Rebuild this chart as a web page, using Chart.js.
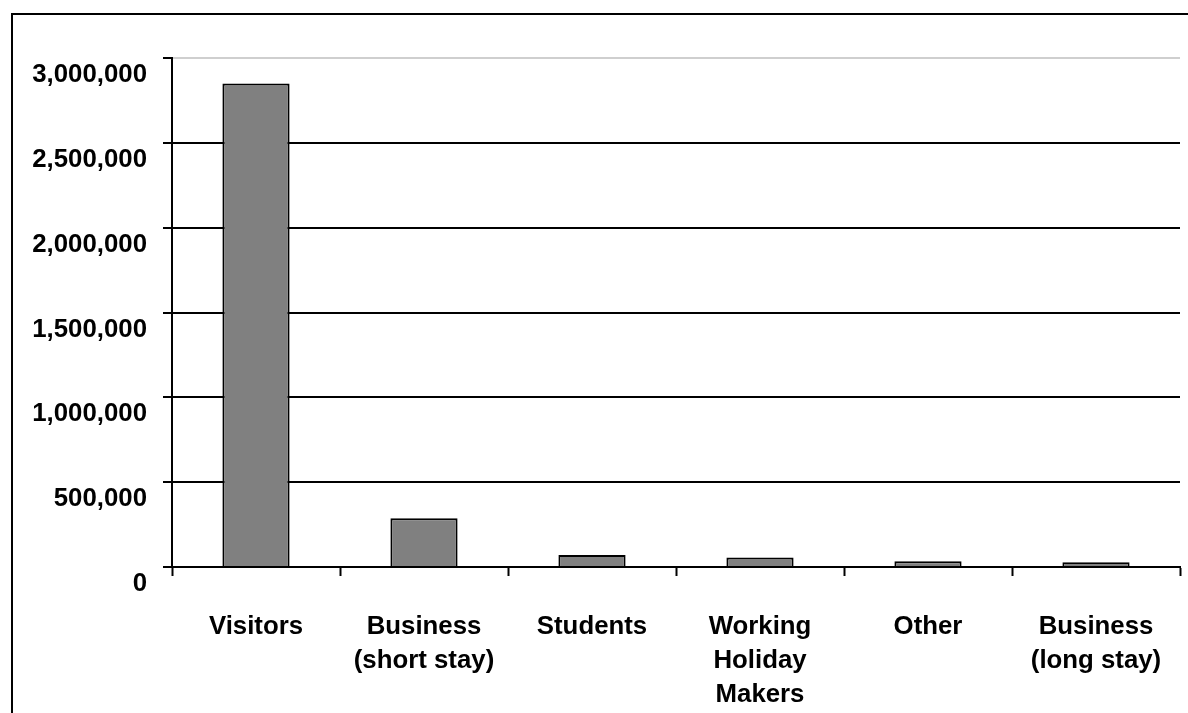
<!DOCTYPE html>
<html>
<head>
<meta charset="utf-8">
<script src="https://cdn.jsdelivr.net/npm/chart.js@4/dist/chart.umd.min.js"></script>
<style>
  html, body { margin: 0; padding: 0; background: #fff; overflow: hidden; }
  #wrap { position: relative; width: 1188px; height: 713px; }
  #frame { position: absolute; left: 11px; top: 13px; width: 1300px; height: 900px; border: 2px solid #000; box-sizing: border-box; }
  #c { position: absolute; left: 0; top: 0; }
</style>
</head>
<body>
<div id="wrap">
  <div id="frame"></div>
  <canvas id="c" width="1188" height="713"></canvas>
</div>
<script>
// Visa categories and approximate grant counts
const categories = [
  'Visitors',
  ['Business', '(short stay)'],
  'Students',
  ['Working', 'Holiday', 'Makers'],
  'Other',
  ['Business', '(long stay)']
];
const grants = [2850000, 287000, 70000, 56000, 34000, 28000];
const yMax = 3000000;
const yStep = 500000;

const FONT = { family: '"Liberation Sans", Arial, sans-serif', size: 25.8, weight: 'bold', lineHeight: 1.32 };

new Chart(document.getElementById('c'), {
  type: 'bar',
  data: {
    labels: categories,
    datasets: [{
      data: grants,
      backgroundColor: '#808080',
      borderColor: '#000',
      borderWidth: 2,
      borderSkipped: 'bottom',
      categoryPercentage: 1,
      barPercentage: 0.4
    }]
  },
  options: {
    responsive: false,
    animation: false,
    devicePixelRatio: 1,
    layout: { padding: { left: 0, right: 8, top: 58, bottom: 0 } },
    plugins: { legend: { display: false }, tooltip: { enabled: false } },
    scales: {
      x: {
        afterFit: s => {
          s.height = 713 - 567;
          s.paddingLeft = 0;
          s.paddingRight = 0;
        },
        grid: {
          offset: true,
          drawOnChartArea: false,
          drawTicks: true,
          tickLength: 9,
          tickColor: '#000',
          tickWidth: 2
        },
        border: { display: true, color: '#000', width: 2 },
        ticks: { color: '#000', font: FONT, padding: 34, maxRotation: 0, autoSkip: false }
      },
      y: {
        min: 0,
        max: yMax,
        afterFit: s => { s.width = 172; },
        grid: {
          color: ctx => (ctx.tick && ctx.tick.value === yMax) ? '#cfcfcf' : '#000',
          lineWidth: 2,
          tickLength: 9,
          tickColor: '#000',
          tickWidth: 2
        },
        border: { display: true, color: '#000', width: 2 },
        ticks: {
          stepSize: yStep,
          color: '#000',
          font: FONT,
          padding: 16,
          labelOffset: 17,
          callback: v => v.toLocaleString('en-US')
        }
      }
    }
  }
});
</script>
</body>
</html>
